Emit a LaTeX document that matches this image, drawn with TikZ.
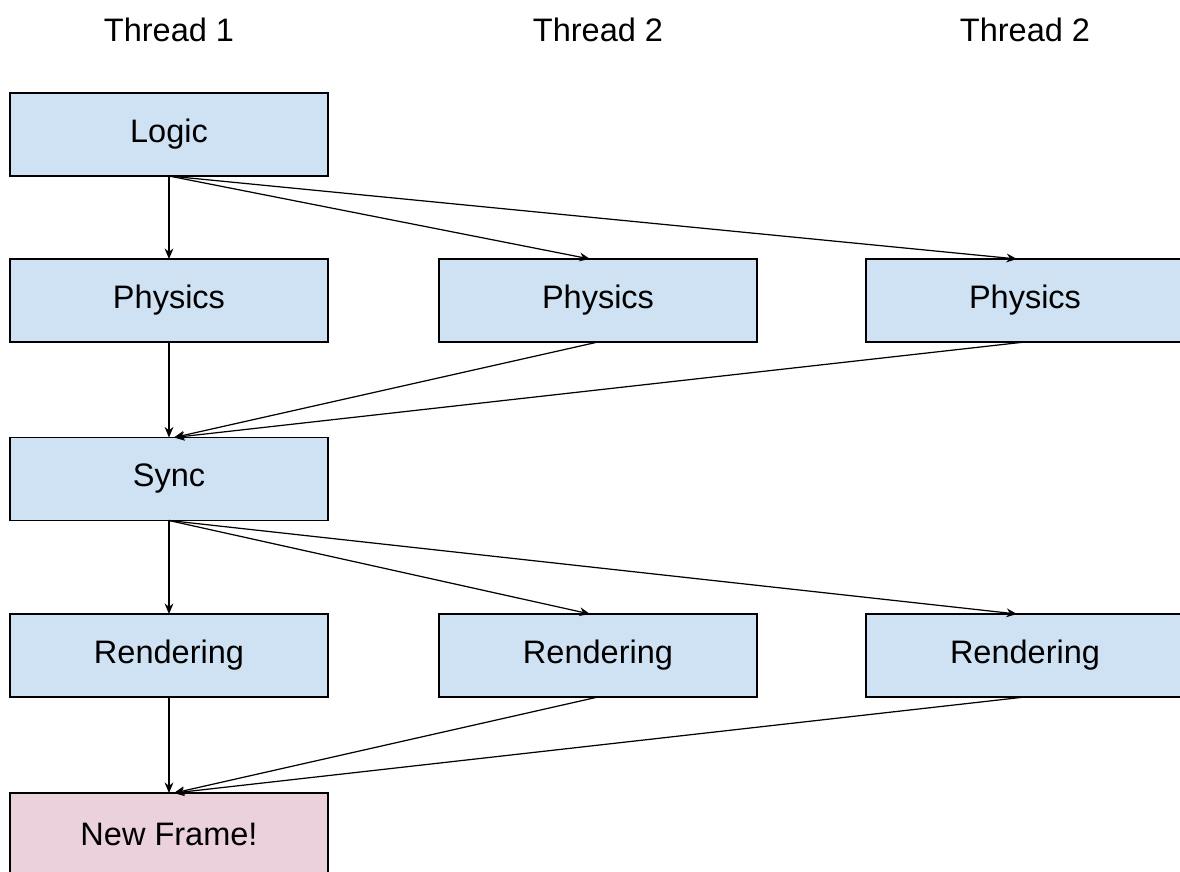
\documentclass[tikz,border=0pt]{standalone}
\usepackage{fontspec}
\setmainfont{Liberation Sans}
\usetikzlibrary{arrows.meta}
\definecolor{stageblue}{HTML}{CFE2F3}
\definecolor{framepink}{HTML}{EAD1DC}

\begin{document}
\begin{tikzpicture}[inner sep=0pt,outer sep=0pt,line width=0.7pt,
>={Stealth[length=6pt,width=5pt]},
stage/.style={draw,rectangle,fill=stageblue,minimum width=6.36cm,minimum height=1.66cm,font=\fontsize{18.5}{22}\selectfont},
framebox/.style={stage,fill=framepink},
thread/.style={font=\fontsize{18.5}{22}\selectfont}]

\useasboundingbox (0,0) rectangle (23.6,-17.44);

\draw (3.38,-0.6) node[thread] (t1) {Thread 1};
\draw (11.96,-0.6) node[thread] (t2) {Thread 2};
\draw (20.5,-0.6) node[thread] (t3) {Thread 2};

\draw (3.38,-2.69) node[stage] (logic) {Logic};
\draw (3.38,-6.01) node[stage] (phys1) {Physics};
\draw (11.96,-6.01) node[stage] (phys2) {Physics};
\draw (20.5,-6.01) node[stage] (phys3) {Physics};
\draw (3.38,-9.58) node[stage] (sync) {Sync};
\draw (3.38,-13.11) node[stage] (rend1) {Rendering};
\draw (11.96,-13.11) node[stage] (rend2) {Rendering};
\draw (20.5,-13.11) node[stage] (rend3) {Rendering};
\draw (3.38,-16.69) node[framebox] (frame) {New Frame!};

\draw[->] (logic.south) -- (phys1.north);
\draw[->] (logic.south) -- ([xshift=-0.16cm]phys2.north);
\draw[->] (logic.south) -- ([xshift=-0.16cm]phys3.north);

\draw[->] (phys1.south) -- (sync.north);
\draw[->] (phys2.south) -- ([xshift=0.1cm]sync.north);
\draw[->] (phys3.south) -- ([xshift=0.1cm]sync.north);

\draw[->] (sync.south) -- (rend1.north);
\draw[->] (sync.south) -- ([xshift=-0.16cm]rend2.north);
\draw[->] (sync.south) -- ([xshift=-0.16cm]rend3.north);

\draw[->] (rend1.south) -- (frame.north);
\draw[->] (rend2.south) -- ([xshift=0.1cm]frame.north);
\draw[->] (rend3.south) -- ([xshift=0.1cm]frame.north);

\end{tikzpicture}
\end{document}
